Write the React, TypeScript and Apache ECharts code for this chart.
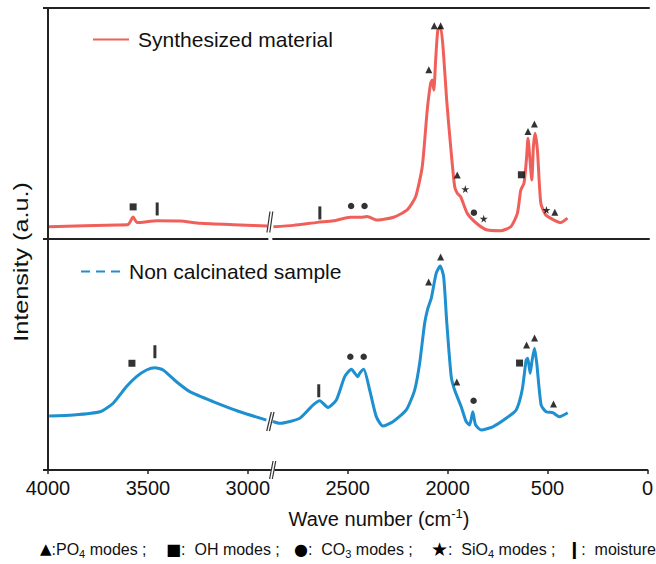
import React, { useEffect, useRef } from "react";
import * as echarts from "echarts";

const FONT = "'Liberation Sans', Arial, Helvetica, sans-serif";
const RED = "#F0605B";
const BLUE = "#1E8FCF";
const AXIS = "#222222";

// axis ticks (display positions) and the labels printed under them
const xTickValues = [4000, 3500, 3000, 2500, 2000, 1500, 1000];
const xTickLabels = ["4000", "3500", "3000", "2500", "2000", "500", "0"];
const breakAt = 2890;

// Synthesized material (top panel)
const synthX = [3995, 3655, 3600, 3575, 3555, 3455, 3340, 3240, 3040, 2905, 2890, 2875, 2775, 2655, 2575, 2490, 2440, 2407, 2357, 2275, 2207, 2165, 2132, 2107, 2090, 2082, 2074, 2065, 2054, 2040, 2027, 2010, 1990, 1970, 1957, 1940, 1907, 1857, 1807, 1740, 1690, 1657, 1640, 1624, 1612, 1604, 1594, 1585, 1577, 1569, 1557, 1540, 1515, 1474, 1440, 1407];
const synthY = [5.3, 6.1, 6.3, 9.5, 7.1, 7.9, 7.8, 6.8, 6.1, 5.6, null, 5.3, 5.9, 7.2, 7.9, 9.4, 9.4, 9.7, 8.2, 9.4, 12.6, 18.3, 31.3, 55.8, 67.4, 68.8, 64.5, 77.5, 90.5, 91.6, 81.8, 60.2, 40.0, 22.6, 19.8, 18.3, 11.1, 6.5, 3.9, 3.6, 5.3, 11.1, 21.2, 24.1, 34.2, 43.6, 34.2, 25.5, 40.0, 45.8, 38.5, 15.5, 10.4, 8.2, 7.1, 9.0];

// Non calcinated sample (bottom panel)
const nonCalcX = [3994, 3874, 3740, 3674, 3607, 3557, 3507, 3465, 3424, 3357, 3290, 3174, 3040, 2907, 2890, 2875, 2840, 2740, 2674, 2640, 2599, 2557, 2515, 2482, 2449, 2440, 2420, 2390, 2357, 2324, 2274, 2207, 2165, 2140, 2115, 2099, 2082, 2057, 2037, 2020, 2004, 1982, 1965, 1932, 1907, 1890, 1874, 1860, 1832, 1774, 1707, 1657, 1627, 1607, 1599, 1587, 1577, 1565, 1554, 1532, 1507, 1474, 1440, 1399];
const nonCalcY = [23.4, 23.8, 25.2, 28.9, 36.1, 40.4, 43.3, 44.3, 43.3, 38.2, 33.9, 29.6, 25.2, 21.6, null, 21.0, 20.2, 22.4, 28.1, 30.0, 27.1, 30.3, 40.4, 43.6, 40.4, 41.9, 43.6, 34.6, 23.1, 19.0, 20.9, 26.0, 34.6, 46.2, 63.5, 70.0, 74.3, 85.2, 88.3, 83.7, 63.5, 40.4, 34.6, 27.4, 20.9, 19.5, 25.2, 19.5, 17.3, 18.7, 22.4, 26.0, 34.6, 47.6, 48.4, 41.9, 47.6, 52.7, 46.2, 28.1, 25.2, 24.8, 23.1, 24.8];

// band assignment marks: [x, y, kind]
const synthMarks: [number, number, string][] = [
  [3575, 13.9, "sq"], [3455, 13.0, "bar"], [2643, 11.3, "bar"], [2487, 14.3, "cir"], [2420, 14.3, "cir"],
  [2072, 92.3, "tri"], [2040, 92.3, "tri"], [2099, 73.3, "tri"], [1957, 27.7, "tri"], [1917, 21.6, "star"],
  [1874, 11.4, "cir"], [1825, 8.8, "star"], [1637, 27.8, "sq"], [1604, 46.5, "tri"], [1572, 49.8, "tri"],
  [1512, 12.6, "star"], [1470, 11.6, "tri"],
];
const nonCalcMarks: [number, number, string][] = [
  [3580, 46.2, "sq"], [3465, 51.2, "bar"], [2645, 34.3, "bar"], [2487, 49.0, "cir"], [2420, 49.0, "cir"],
  [2035, 92.2, "tri"], [2095, 81.4, "tri"], [1954, 38.1, "tri"], [1870, 30.0, "cir"], [1640, 46.3, "sq"],
  [1605, 54.1, "tri"], [1565, 57.1, "tri"], [1470, 28.6, "tri"],
];

const STAR = "path://M50,0 L61,35 L98,35 L68,57 L79,91 L50,70 L21,91 L32,57 L2,35 L39,35 Z";
const symbolOf: Record<string, any> = {
  tri: { symbol: "triangle", symbolSize: 7 },
  sq: { symbol: "rect", symbolSize: 7 },
  cir: { symbol: "circle", symbolSize: 6.5 },
  star: { symbol: STAR, symbolSize: 8 },
  bar: { symbol: "rect", symbolSize: [3, 13] },
};

const pairs = (xs: number[], ys: (number | null)[]) => xs.map((x, i) => [x, ys[i] === null ? "-" : ys[i]]);
const marks = (m: [number, number, string][]) =>
  m.map(([x, y, k]) => ({ value: [x, y], ...symbolOf[k] }));

export default function App() {
  const ref = useRef<HTMLDivElement>(null);
  useEffect(() => {
    if (!ref.current) return;
    const chart = echarts.init(ref.current, null, { renderer: "svg" });
    const labelMap: Record<number, string> = {};
    xTickValues.forEach((v, i) => (labelMap[v] = xTickLabels[i]));
    const baseX = {
      type: "value",
      min: 1000,
      max: 4000,
      interval: 500,
      inverse: true,
      splitLine: { show: false },
      axisLine: { show: true, onZero: false, lineStyle: { color: AXIS, width: 2 } },
      axisTick: { show: false },
      axisLabel: { show: false },
    };
    const baseY = {
      type: "value",
      min: 0,
      max: 100,
      interval: 100,
      splitLine: { show: false },
      axisLine: { show: true, lineStyle: { color: AXIS, width: 2 } },
      axisTick: { show: true, inside: false, length: 5, lineStyle: { color: AXIS, width: 2 } },
      axisLabel: { show: false },
    };
    const legendBase = {
      itemHeight: 14,
      selectedMode: false,
      itemStyle: { opacity: 0, borderWidth: 0 },
      textStyle: { fontSize: 21, color: "#111", fontFamily: FONT, padding: [0, 0, 0, 4] },
    };
    chart.setOption({
      animation: false,
      textStyle: { fontFamily: FONT },
      grid: [
        { left: 48, right: 7, top: 8, height: 231 },
        { left: 48, right: 7, top: 239, height: 231 },
      ],
      xAxis: [
        { ...baseX, gridIndex: 0, position: "bottom" },
        { ...baseX, gridIndex: 0, position: "top" },
        {
          ...baseX,
          gridIndex: 1,
          position: "bottom",
          axisTick: { show: true, length: 4, lineStyle: { color: AXIS, width: 1.5 } },
          axisLabel: {
            show: true,
            margin: 8,
            color: "#111",
            fontSize: 20,
            fontFamily: FONT,
            formatter: (v: number) => labelMap[v] ?? "",
          },
        },
      ],
      yAxis: [
        { ...baseY, gridIndex: 0 },
        { ...baseY, gridIndex: 1 },
      ],
      legend: [
        {
          ...legendBase,
          data: ["Synthesized material"],
          left: 87,
          top: 24,
          itemWidth: 36,
          lineStyle: { width: 2, color: RED },
        },
        {
          ...legendBase,
          data: ["Non calcinated sample"],
          left: 75,
          top: 256,
          itemWidth: 39,
          lineStyle: { width: 2, color: BLUE, type: [9, 6] },
        },
      ],
      series: [
        {
          name: "Synthesized material",
          type: "line",
          xAxisIndex: 0,
          yAxisIndex: 0,
          data: pairs(synthX, synthY),
          symbol: "none",
          smooth: 0.2,
          connectNulls: false,
          lineStyle: { color: RED, width: 3 },
          itemStyle: { color: RED },
        },
        {
          name: "Non calcinated sample",
          type: "line",
          xAxisIndex: 2,
          yAxisIndex: 1,
          data: pairs(nonCalcX, nonCalcY),
          symbol: "none",
          smooth: 0.2,
          connectNulls: false,
          lineStyle: { color: BLUE, width: 3 },
          itemStyle: { color: BLUE },
        },
        {
          name: "marks-top",
          type: "scatter",
          xAxisIndex: 0,
          yAxisIndex: 0,
          data: marks(synthMarks),
          itemStyle: { color: "#000" },
          z: 5,
        },
        {
          name: "marks-bottom",
          type: "scatter",
          xAxisIndex: 2,
          yAxisIndex: 1,
          data: marks(nonCalcMarks),
          itemStyle: { color: "#000" },
          z: 5,
        },
      ],
    });

    // break marks computed from the axes
    const bx = chart.convertToPixel({ xAxisIndex: 0 }, breakAt) as number;
    const midY = chart.convertToPixel({ yAxisIndex: 0 }, 0) as number;
    const botY = chart.convertToPixel({ yAxisIndex: 1 }, 0) as number;
    const redY = chart.convertToPixel({ yAxisIndex: 0 }, 6.5) as number;
    const blueY = chart.convertToPixel({ yAxisIndex: 1 }, 21) as number;
    const slash = (cx: number, cy: number, h: number, slant: number, gap: number) => [
      {
        type: "line",
        z: 100,
        shape: { x1: cx - gap / 2 - slant / 2, y1: cy + h / 2, x2: cx - gap / 2 + slant / 2, y2: cy - h / 2 },
        style: { stroke: "#333", lineWidth: 1.2 },
      },
      {
        type: "line",
        z: 100,
        shape: { x1: cx + gap / 2 - slant / 2, y1: cy + h / 2, x2: cx + gap / 2 + slant / 2, y2: cy - h / 2 },
        style: { stroke: "#333", lineWidth: 1.2 },
      },
    ];
    const legendItems = [
      { x: 40, sym: "▲", symSize: 15, parts: [":PO", "4", " modes ;"] },
      { x: 166, sym: "■", symSize: 16, parts: [":  OH modes ;"] },
      { x: 294, sym: "●", symSize: 16, parts: [":  CO", "3", " modes ;"] },
      { x: 431, sym: "★", symSize: 19, parts: [":  SiO", "4", " modes ;"] },
      { x: 567, sym: "❙", symSize: 17, parts: [":  moisture"] },
    ];
    const legendTexts = legendItems.map((it) => {
      let text = `{s|${it.sym}}`;
      it.parts.forEach((p, i) => {
        text += i % 2 === 1 ? `{sub|${p}}` : `{t|${p}}`;
      });
      return {
        type: "text",
        x: it.x,
        y: 549,
        z: 100,
        style: {
          text,
          textVerticalAlign: "middle",
          verticalAlign: "middle",
          rich: {
            s: { fontSize: it.symSize, fontFamily: "'DejaVu Sans', sans-serif", fill: "#000", lineHeight: 20 },
            t: { fontSize: 16, fontFamily: FONT, fill: "#111", lineHeight: 20 },
            sub: { fontSize: 11, fontFamily: FONT, fill: "#111", lineHeight: 10, verticalAlign: "bottom" },
          },
        },
      };
    });
    chart.setOption({
      graphic: [
        { type: "rect", z: 99, shape: { x: bx - 2, y: midY - 3, width: 4, height: 6 }, style: { fill: "#fff" } },
        { type: "rect", z: 99, shape: { x: bx + 0.5, y: botY - 3, width: 3.5, height: 6 }, style: { fill: "#fff" } },
        ...slash(bx - 0.5, redY - 2, 21, 3, 2.8),
        ...slash(bx, blueY, 19, 4.6, 2.7),
        ...slash(bx + 2.3, botY, 18, 3.4, 2.7),
        {
          type: "text",
          x: 21,
          y: 262,
          rotation: Math.PI / 2,
          scaleX: 1.2,
          z: 100,
          style: {
            text: "Intensity (a.u.)",
            fontSize: 21,
            fontFamily: FONT,
            fill: "#111",
            textAlign: "center",
            textVerticalAlign: "middle",
            align: "center",
            verticalAlign: "middle",
          },
        },
        {
          type: "text",
          x: 379,
          y: 519,
          z: 100,
          style: {
            text: "{t|Wave number (cm}{sup|-1}{t|)}",
            align: "center",
            verticalAlign: "middle",
            textAlign: "center",
            textVerticalAlign: "middle",
            rich: {
              t: { fontSize: 20, fontFamily: FONT, fill: "#111", lineHeight: 24 },
              sup: { fontSize: 13, fontFamily: FONT, fill: "#111", lineHeight: 12, verticalAlign: "top" },
            },
          },
        },
        ...legendTexts,
      ],
    });
    return () => chart.dispose();
  }, []);
  return (
    <div
      ref={ref}
      style={{ position: "fixed", left: 0, top: 0, width: 656, height: 564, background: "#fff" }}
    />
  );
}
